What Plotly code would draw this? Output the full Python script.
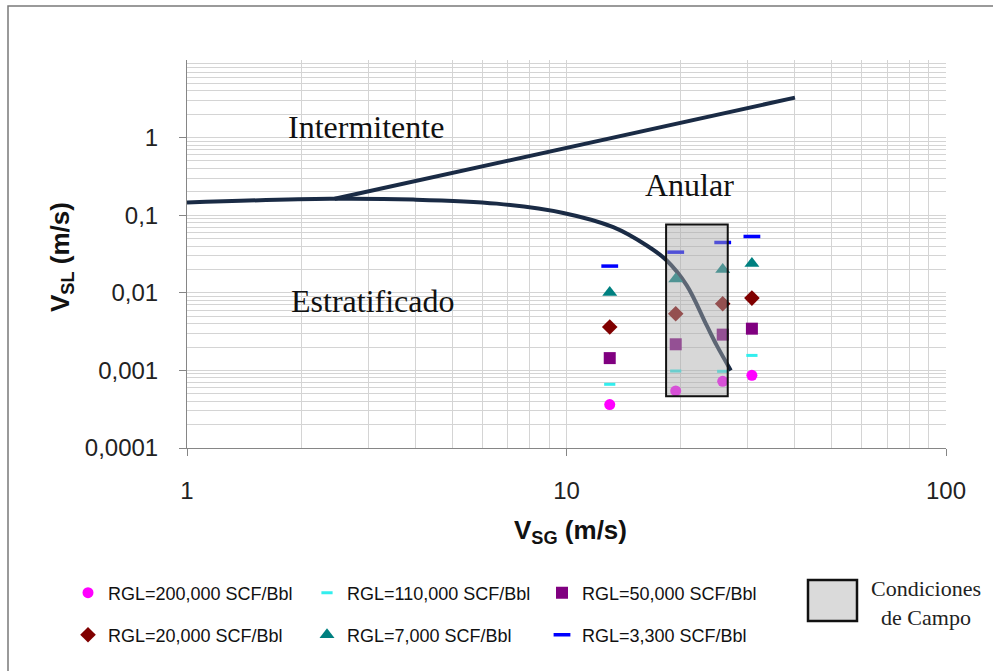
import plotly.graph_objects as go

# ---- data ----
strat_x = [1, 2.38, 3.95, 6.55, 9.81, 13.28, 16.27, 18.37, 20.74, 23.41, 24.88, 27.1]
strat_y = [0.146, 0.1626, 0.159, 0.141, 0.107, 0.0701, 0.0407, 0.0261, 0.01245, 0.0038, 0.0021, 0.0010]
inter_x = [2.45, 40]
inter_y = [0.163, 3.27]

vsg = [13, 19.4, 25.8, 30.8]
rgl_names = ["RGL=200,000 SCF/Bbl", "RGL=110,000 SCF/Bbl", "RGL=50,000 SCF/Bbl",
             "RGL=20,000 SCF/Bbl", "RGL=7,000 SCF/Bbl", "RGL=3,300 SCF/Bbl"]
vsl_200k = [0.000363, 0.000543, 0.000724, 0.000865]
vsl_110k = [0.000662, 0.000982, 0.000973, 0.00156]
vsl_50k = [0.00144, 0.00217, 0.00289, 0.00345]
vsl_20k = [0.00362, 0.00538, 0.00724, 0.00855]
vsl_7k = [0.0101, 0.0151, 0.0200, 0.0239]
vsl_3300 = [0.0221, 0.0334, 0.0445, 0.0532]

box_x = [18.3, 26.6]
box_y = [0.000464, 0.076]

y_tickvals = [0.0001, 0.001, 0.01, 0.1, 1]
y_ticktext = ["0,0001", "0,001", "0,01", "0,1", "1"]
x_tickvals = [1, 10, 100]
x_ticktext = ["1", "10", "100"]

# ---- layout geometry (pixels) ----
W, H = 993, 671
L, R, T, B = 187, 47, 60, 223
pw, ph = W - L - R, H - T - B


def px2x(px):
    return (px - L) / pw


def py2y(py):
    return (H - B - py) / ph


navy = "#1a2b45"
fig = go.Figure()
fig.add_trace(go.Scatter(x=strat_x, y=strat_y, mode="lines", line=dict(color=navy, width=4, shape="spline", smoothing=1.0),
                         showlegend=False, hoverinfo="skip"))
fig.add_trace(go.Scatter(x=inter_x, y=inter_y, mode="lines", line=dict(color=navy, width=4),
                         showlegend=False, hoverinfo="skip"))

series = [
    (vsl_200k, dict(symbol="circle", size=11, color="#ff00ff", line=dict(width=0))),
    (vsl_110k, dict(symbol="line-ew", size=8, color="#33eeee", line=dict(width=3, color="#33eeee"))),
    (vsl_50k, dict(symbol="square", size=12, color="#800080", line=dict(width=0))),
    (vsl_20k, dict(symbol="diamond", size=12, color="#800000", line=dict(width=0))),
    (vsl_7k, dict(symbol="triangle-up", size=13, color="#008080", line=dict(width=0))),
    (vsl_3300, dict(symbol="line-ew", size=12, color="#0000ff", line=dict(width=3.5, color="#0000ff"))),
]
legend_ids = ["legend", "legend2", "legend3", "legend4", "legend5", "legend6"]
for (vals, mk), name, lid in zip(series, rgl_names, legend_ids):
    fig.add_trace(go.Scatter(x=vsg, y=vals, mode="markers", marker=mk, name=name, legend=lid))

# field-conditions box (drawn above data, semi-transparent)
fig.add_shape(type="rect", xref="x", yref="y", x0=box_x[0], x1=box_x[1], y0=box_y[0], y1=box_y[1],
              layer="above", fillcolor="rgba(170,170,170,0.47)", line=dict(color="#111111", width=2))

# outer frame
fig.add_shape(type="rect", xref="paper", yref="paper", x0=px2x(8), x1=px2x(1100), y0=py2y(760), y1=py2y(6),
              line=dict(color="#7a7a7a", width=1.5), fillcolor="rgba(0,0,0,0)", layer="below")

# legend entry for the box
fig.add_shape(type="rect", xref="paper", yref="paper", x0=px2x(808), x1=px2x(857), y0=py2y(621), y1=py2y(580),
              line=dict(color="#111111", width=2.5), fillcolor="#dadada")
fig.add_annotation(xref="paper", yref="paper", x=px2x(926), y=py2y(603), text="Condiciones<br>de Campo",
                   showarrow=False, font=dict(family="Liberation Serif", size=22, color="#222222"),
                   xanchor="center", yanchor="middle")

# region labels (log coordinates)
serif = dict(family="Liberation Serif", size=32, color="#111111")
fig.add_annotation(x=0.4704, y=0.1416, xref="x", yref="y", text="Intermitente", showarrow=False, font=serif)
fig.add_annotation(x=1.3254, y=-0.6049, xref="x", yref="y", text="Anular", showarrow=False, font=serif)
fig.add_annotation(x=0.4888, y=-2.1107, xref="x", yref="y", text="Estratificado", showarrow=False, font=serif)

# axis titles
tfont = dict(family="Liberation Sans", size=26, color="#111111")
fig.add_annotation(xref="paper", yref="paper", x=px2x(570), y=py2y(531), text="<b>V<sub>SG</sub> (m/s)</b>",
                   showarrow=False, font=tfont, xanchor="center", yanchor="middle")
fig.add_annotation(xref="paper", yref="paper", x=px2x(61), y=py2y(257), text="<b>V<sub>SL</sub> (m/s)</b>",
                   showarrow=False, font=tfont, textangle=-90, xanchor="center", yanchor="middle")

grid = "#d4d4d4"
axis_common = dict(type="log", showline=True, linecolor="#868686", linewidth=1, ticks="outside", ticklen=7,
                   tickcolor="#868686", showgrid=True, gridcolor=grid, gridwidth=1, zeroline=False,
                   tickfont=dict(family="Liberation Sans", size=24, color="#222222"),
                   minor=dict(showgrid=True, gridcolor=grid, gridwidth=1, dtick="D1", ticks=""))
fig.update_xaxes(range=[0, 2], tickmode="array", tickvals=x_tickvals, ticktext=x_ticktext,
                 ticklabelstandoff=14, **axis_common)
fig.update_yaxes(range=[-4, 1], tickmode="array", tickvals=y_tickvals, ticktext=y_ticktext,
                 ticklabelstandoff=16, **axis_common)

lfont = dict(family="Liberation Sans", size=18, color="#111111")
text_starts = [108, 347, 582, 108, 347, 582]
rows = [593, 593, 593, 635, 635, 635]
legends = {}
for lid, tx, ry in zip(legend_ids, text_starts, rows):
    legends[lid] = dict(x=px2x(tx - 40), y=py2y(ry), xanchor="left", yanchor="middle", font=lfont,
                        bgcolor="rgba(0,0,0,0)", borderwidth=0, itemsizing="trace")

fig.update_layout(width=W, height=H, margin=dict(l=L, r=R, t=T, b=B), plot_bgcolor="white",
                  paper_bgcolor="white", **legends)

fig.write_html("out.html", config={"displayModeBar": False},
               post_script="document.body.style.margin='0';document.body.style.overflow='hidden';")
